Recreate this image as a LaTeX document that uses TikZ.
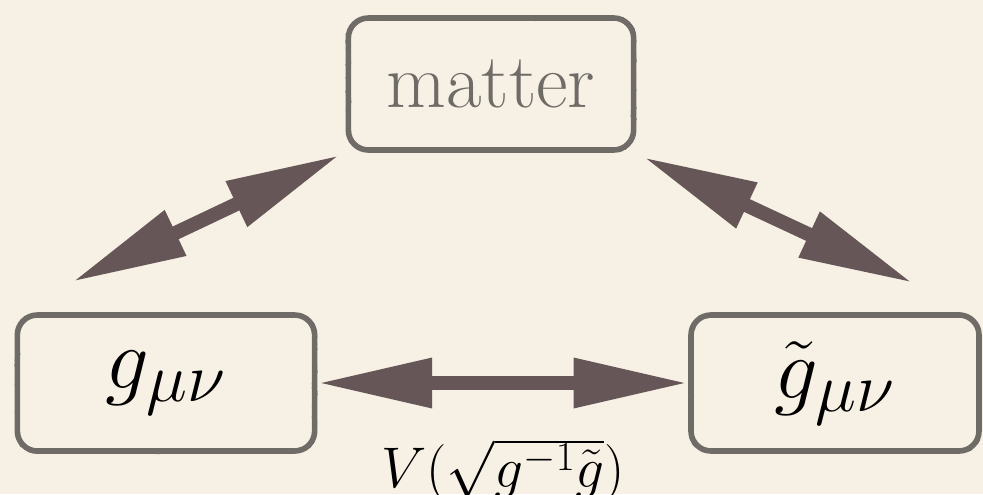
\documentclass[tikz,border=0pt]{standalone}
\usepackage{fix-cm}
\usepackage{fontspec}
\usetikzlibrary{arrows.meta,decorations.pathmorphing}
\DeclareMathSizes{65}{65}{52}{40}
\DeclareMathSizes{43}{43}{31}{24}
\definecolor{paper}{RGB}{247,240,228}
\definecolor{chalk}{RGB}{111,107,102}
\definecolor{arrowcol}{RGB}{102,86,87}
\tikzset{
  roughbox/.style={draw=chalk, line width=4.2pt, rounded corners=15pt, inner sep=0pt,
    postaction={draw=chalk, sharp corners, line width=2pt, line join=round, decorate,
      decoration={random steps, segment length=1.4pt, amplitude=1.3pt}}},
  dblarrow/.style={arrowcol, line width=10.5pt,
    {Triangle[length=86pt,width=35pt]}-{Triangle[length=86pt,width=35pt]}}
}
\pgfmathsetseed{7}
\begin{document}
\begin{tikzpicture}[x=0.75pt,y=0.75pt,yscale=-1,xscale=1]
	\useasboundingbox [fill=paper] (0,0) rectangle (983,494);
	
	% Boxes
	\node [roughbox, minimum width=214pt, minimum height=99pt] (matter) at (491,84)
		{\color{chalk}\fontsize{58}{64}\selectfont matter};
	\node [roughbox, minimum width=223pt, minimum height=102pt] (g) at (166,383)
		{\fontsize{65}{72}\selectfont $g_{\mu\nu}$};
	\node [roughbox, minimum width=216pt, minimum height=102pt] (gt) at (835,383)
		{\fontsize{65}{72}\selectfont $\tilde{g}_{\mu\nu}$};
	
	% Arrow ends
	\coordinate (gm) at (72,282);
	\coordinate (mg) at (340,155);
	\coordinate (mgt) at (643,157);
	\coordinate (gtm) at (913,283);
	
	% Arrows
	\draw [dblarrow] (gm) -- (mg);
	\draw [dblarrow] (mgt) -- (gtm);
	\draw [dblarrow] (g) -- (gt);
	
	% Text Node
	\node [anchor=base] (pot) at (503,487) {\fontsize{43}{50}\selectfont $V(\sqrt{g^{-1}\tilde{g}})$};
	
\end{tikzpicture}
\end{document}
